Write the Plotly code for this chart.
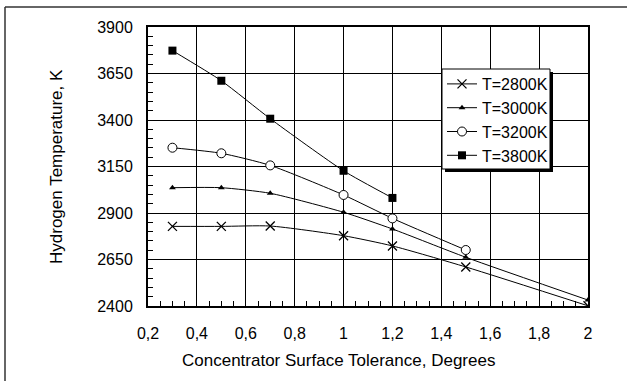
import plotly.graph_objects as go

# Data
tolerance_2800 = [0.3, 0.5, 0.7, 1.0, 1.2, 1.5, 2.0]
temp_2800 = [2828, 2828, 2830, 2778, 2723, 2610, 2401]

tolerance_3000 = [0.3, 0.5, 0.7, 1.0, 1.2, 1.5, 2.0]
temp_3000 = [3036, 3036, 3006, 2904, 2814, 2662, 2432]

tolerance_3200 = [0.3, 0.5, 0.7, 1.0, 1.2, 1.5]
temp_3200 = [3251, 3221, 3156, 2997, 2871, 2701]

tolerance_3800 = [0.3, 0.5, 0.7, 1.0, 1.2]
temp_3800 = [3773, 3611, 3407, 3127, 2981]

series_names = ["T=2800K", "T=3000K", "T=3200K", "T=3800K"]

x_tickvals = [0.2, 0.4, 0.6, 0.8, 1.0, 1.2, 1.4, 1.6, 1.8, 2.0]
x_ticktext = ["0,2", "0,4", "0,6", "0,8", "1", "1,2", "1,4", "1,6", "1,8", "2"]
y_tickvals = [2400, 2650, 2900, 3150, 3400, 3650, 3900]

FONT = "Liberation Sans, Arial, sans-serif"
W, H = 627, 381
L, R, T, B = 148, 588, 27, 306

fig = go.Figure()
styles = [
    dict(symbol="x-thin-open", size=9, color="black", line=dict(width=1.3, color="black")),
    dict(symbol="triangle-up", size=6, color="black"),
    dict(symbol="circle", size=9, color="white", line=dict(width=1, color="black")),
    dict(symbol="square", size=8, color="black"),
]
data = [(tolerance_2800, temp_2800), (tolerance_3000, temp_3000),
        (tolerance_3200, temp_3200), (tolerance_3800, temp_3800)]
for (xs, ys), name, mk in zip(data, series_names, styles):
    fig.add_trace(go.Scatter(
        x=xs, y=ys, name=name, mode="lines+markers",
        line=dict(color="black", width=1, shape="spline", smoothing=0.6),
        marker=mk,
    ))

def px_to_paper_x(px):
    return (px - L) / (R - L)

def px_to_paper_y(py):
    return (B - py) / (B - T)

def box(x0, y0, x1, y1, fill, line_w=0):
    return dict(type="rect", xref="paper", yref="paper", layer="above",
                x0=px_to_paper_x(x0), x1=px_to_paper_x(x1),
                y0=px_to_paper_y(y1), y1=px_to_paper_y(y0),
                fillcolor=fill, line=dict(width=line_w, color="black"))

shapes = [
    # outer chart frame (top and left edges visible)
    dict(type="line", xref="paper", yref="paper",
         x0=px_to_paper_x(5), x1=px_to_paper_x(640),
         y0=px_to_paper_y(7), y1=px_to_paper_y(7),
         line=dict(color="#333", width=1.5)),
    dict(type="line", xref="paper", yref="paper",
         x0=px_to_paper_x(5), x1=px_to_paper_x(5),
         y0=px_to_paper_y(7), y1=px_to_paper_y(395),
         line=dict(color="#333", width=1.5)),
    # legend shadow and legend box
    box(445, 72, 553, 172, "black"),
    box(442, 69, 550, 169, "white", 1),
]

fig.update_layout(
    width=W, height=H,
    margin=dict(l=L, r=W - R, t=T, b=H - B),
    paper_bgcolor="white", plot_bgcolor="white",
    font=dict(family=FONT, size=16, color="black"),
    showlegend=True,
    legend=dict(
        x=px_to_paper_x(442), y=px_to_paper_y(67), xanchor="left", yanchor="top",
        bgcolor="rgba(0,0,0,0)", borderwidth=0,
        font=dict(size=16, family=FONT), tracegroupgap=0,
        itemwidth=30,
    ),
    shapes=shapes,
    annotations=[
        dict(text="Concentrator Surface Tolerance, Degrees", xref="paper", yref="paper",
             x=px_to_paper_x(338), y=px_to_paper_y(360), xanchor="center", yanchor="middle",
             showarrow=False, font=dict(size=17, family=FONT)),
        dict(text="Hydrogen Temperature, K", xref="paper", yref="paper",
             x=px_to_paper_x(56), y=px_to_paper_y(167), xanchor="center", yanchor="middle",
             textangle=-90, showarrow=False, font=dict(size=17, family=FONT)),
    ],
)

fig.update_xaxes(
    range=[0.2, 2.0], tickvals=x_tickvals, ticktext=x_ticktext,
    showgrid=True, gridcolor="black", gridwidth=1,
    showline=True, linecolor="black", linewidth=2, mirror=True,
    ticks="inside", ticklen=5, tickcolor="black",
    minor=dict(dtick=0.05, tick0=0.2, ticks="inside", ticklen=5, tickcolor="black", showgrid=False),
    ticklabelstandoff=12, zeroline=False,
)
fig.update_yaxes(
    range=[2400, 3900], tickvals=y_tickvals,
    showgrid=True, gridcolor="black", gridwidth=1,
    showline=True, linecolor="black", linewidth=2, mirror=True,
    ticks="inside", ticklen=5, tickcolor="black",
    minor=dict(dtick=50, tick0=2400, ticks="inside", ticklen=5, tickcolor="black", showgrid=False),
    ticklabelstandoff=10, zeroline=False,
)

fig.write_html("out.html")
